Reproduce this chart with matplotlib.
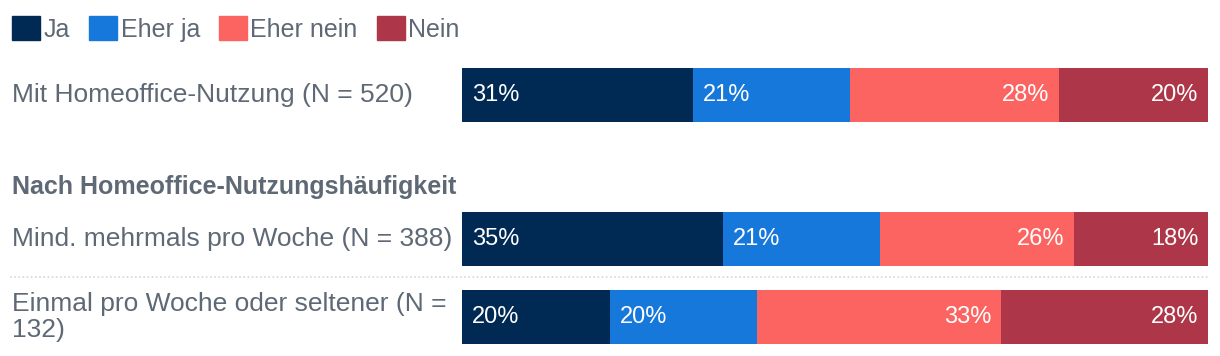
import matplotlib.pyplot as plt
import matplotlib.patches as mpatches
import matplotlib.transforms as mtransforms

plt.rcParams["font.family"] = ["Liberation Sans", "DejaVu Sans"]

categories = ["Ja", "Eher ja", "Eher nein", "Nein"]
colors = ["#002a54", "#1778dc", "#fc6461", "#ad3748"]

row_labels = [
    "Mit Homeoffice-Nutzung (N = 520)",
    "Mind. mehrmals pro Woche (N = 388)",
    "Einmal pro Woche oder seltener (N =\n132)",
]
header = "Nach Homeoffice-Nutzungshäufigkeit"

values = [
    [31, 21, 28, 20],
    [35, 21, 26, 18],
    [20, 20, 33, 28],
]

TEXT = "#5e6975"
W, H = 1220, 356
row_y = [95, 239, 317]
bar_h = 54

fig = plt.figure(figsize=(W / 100, H / 100), dpi=100)
ax = fig.add_axes([462 / W, 0, (1208 - 462) / W, 1])
ax.set_xlim(0, 1)
ax.set_ylim(H, 0)
ax.axis("off")

for y, vals in zip(row_y, values):
    total = sum(vals)
    left = 0
    for i, v in enumerate(vals):
        w = v / total
        ax.barh(y, w, left=left, height=bar_h, color=colors[i], linewidth=0)
        if i < 2:
            ax.text(left + 0.013, y, f"{v}%", color="white", fontsize=17,
                    va="center", ha="left")
        else:
            ax.text(left + w - 0.013, y, f"{v}%", color="white", fontsize=17,
                    va="center", ha="right")
        left += w

# row labels on the left
trans = mtransforms.blended_transform_factory(fig.transFigure, ax.transData)
for y, lab in zip(row_y, row_labels):
    ax.text(12 / W, y, lab, transform=trans, color=TEXT, fontsize=19,
            va="center", ha="left", linespacing=1.15)
ax.text(12 / W, 187, header, transform=trans, color=TEXT, fontsize=18,
        fontweight="bold", va="center", ha="left")

# dotted separator between the two sub rows
fig.add_artist(plt.Line2D([10 / W, 1208 / W], [1 - 277 / H, 1 - 277 / H],
                          transform=fig.transFigure, color="#d4d8dc",
                          linestyle=(0, (1, 1.5)), linewidth=1.2))

handles = [mpatches.Patch(color=c, label=l) for c, l in zip(colors, categories)]
leg = fig.legend(handles=handles, loc="upper left", bbox_to_anchor=(2 / W, 1 - 6 / H),
                 ncol=4, frameon=False, fontsize=18, handlelength=1.12,
                 handleheight=1.12, handletextpad=0.15, columnspacing=0.75,
                 borderaxespad=0)
for t in leg.get_texts():
    t.set_color(TEXT)

fig.savefig("out.png", dpi=100)
